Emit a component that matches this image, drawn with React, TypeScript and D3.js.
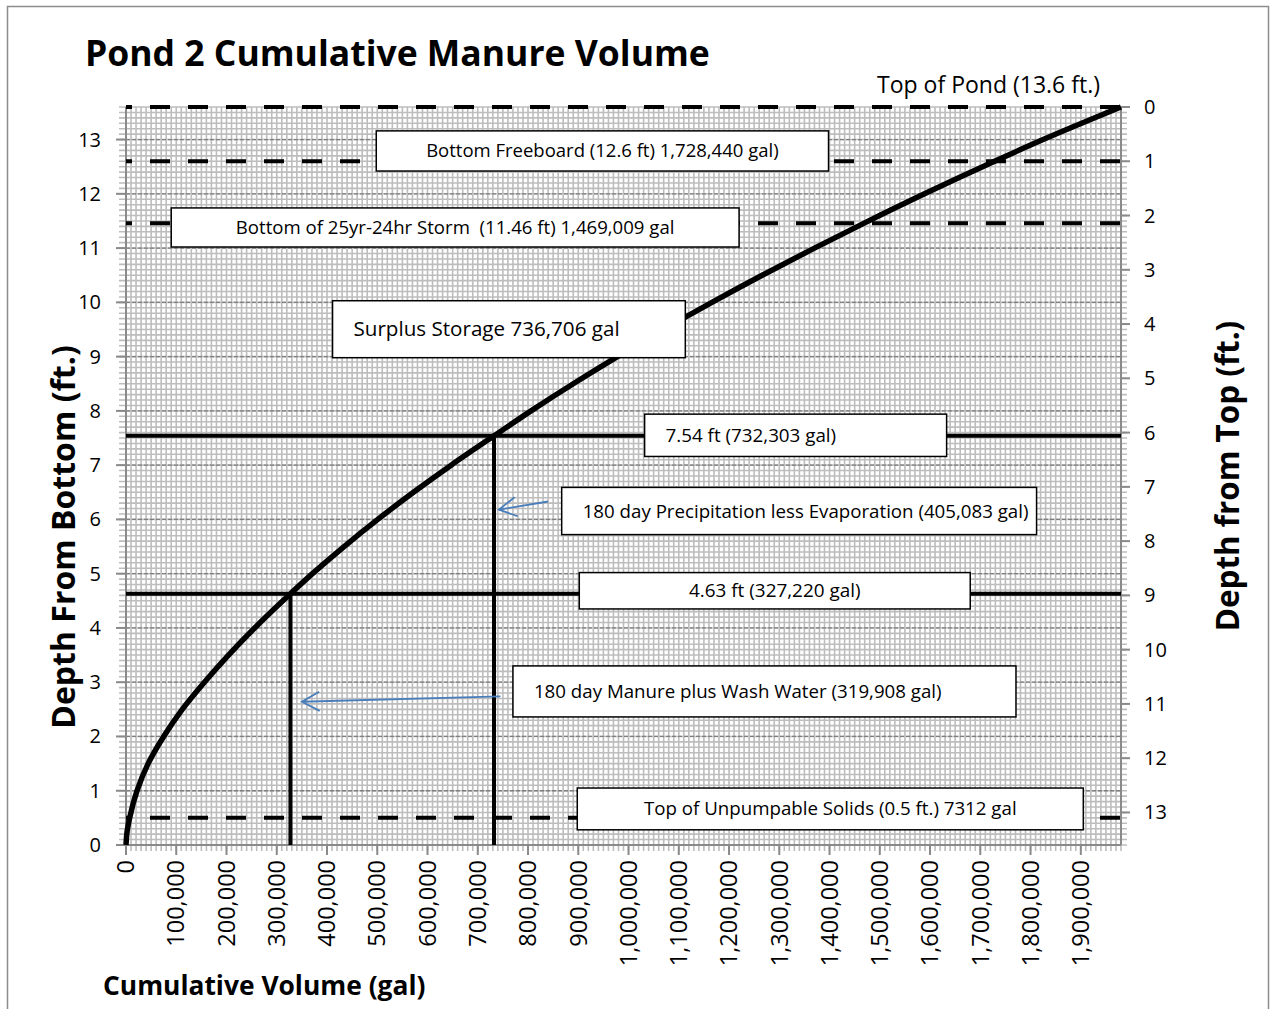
import { useEffect, useRef } from 'react';
import * as d3 from 'd3';

// depth (ft) vs cumulative volume (gal)
const depthFt = [0, 0.25, 0.5, 1, 1.5, 2, 2.5, 3, 3.5, 4, 4.63, 5, 5.5, 6, 6.5, 7, 7.54, 8, 8.5, 9, 9.5, 10, 10.5, 11, 11.46, 12, 12.6, 13, 13.6];
const volumeGal = [0, 2200, 7312, 22000, 44000, 75000, 112000, 156000, 204000, 256000, 327220, 371000, 434000, 501000, 572000, 647000, 732303, 806000, 890000, 978000, 1070000, 1166000, 1266000, 1370000, 1469009, 1589000, 1728440, 1825000, 1980000];

const xTicks = d3.range(0, 2000000, 100000);
const leftTicks = d3.range(0, 14, 1);
const rightTicks = d3.range(0, 14, 1);

// reference levels (ft) and their line style
const levelDepths = [13.6, 12.6, 11.46, 7.54, 4.63, 0.5];
const levelDashed = [true, true, true, false, false, true];

// drop lines: volume (gal) up to depth (ft)
const dropVolumes = [732303, 327220];
const dropDepths = [7.54, 4.63];

const noteTexts = [
  'Bottom Freeboard (12.6 ft) 1,728,440 gal)',
  'Bottom of 25yr-24hr Storm  (11.46 ft) 1,469,009 gal',
  'Surplus Storage 736,706 gal',
  '7.54 ft (732,303 gal)',
  '180 day Precipitation less Evaporation (405,083 gal)',
  '4.63 ft (327,220 gal)',
  '180 day Manure plus Wash Water (319,908 gal)',
  'Top of Unpumpable Solids (0.5 ft.) 7312 gal',
];
// box layout in chart units: [x0 gal, x1 gal, top ft, bottom ft]
const noteBoxes = [
  [498000, 1398000, 13.16, 12.42],
  [90000, 1220000, 11.74, 11.02],
  [411000, 1113000, 10.03, 8.98],
  [1032000, 1633000, 7.94, 7.16],
  [867000, 1812000, 6.59, 5.72],
  [902000, 1680000, 5.02, 4.35],
  [770000, 1771000, 3.3, 2.36],
  [898000, 1905000, 1.05, 0.28],
];
const noteAlign = ['middle', 'middle', 'start', 'start', 'start', 'middle', 'start', 'middle'];
const noteSize = [18.5, 18.6, 20.6, 18.8, 18.7, 18.9, 18.7, 18.7];

// arrows: [from gal, from ft, to gal, to ft]
const arrows = [
  [840000, 6.33, 742000, 6.18],
  [745000, 2.74, 350000, 2.64],
];

export default function App() {
  const ref = useRef<SVGSVGElement>(null);

  useEffect(() => {
    const svg = d3.select(ref.current);
    svg.selectAll('*').remove();
    const W = 1276, H = 1009;
    const m = { left: 126, top: 107, right: 1121, bottom: 845 };
    const font = '"Open Sans", Lato, sans-serif';

    const x = d3.scaleLinear().domain([0, 1980000]).range([m.left, m.right]);
    const y = d3.scaleLinear().domain([0, 13.6]).range([m.bottom, m.top]);
    const yr = d3.scaleLinear().domain([0, 13.6]).range([m.top, m.bottom]);

    svg.append('rect').attr('width', W).attr('height', H).attr('fill', '#fff');
    svg.append('rect').attr('x', 7.5).attr('y', 6.5).attr('width', 1261).attr('height', 1010)
      .attr('fill', 'none').attr('stroke', '#8c8c8c').attr('stroke-width', 1.5);

    const g = svg.append('g');
    // minor grid
    const xMinor = d3.range(0, 1980001, 10000);
    const yMinor = d3.range(0, 136.01, 1).map(d => d / 10);
    g.selectAll('.xm').data(xMinor).join('line')
      .attr('x1', d => x(d)).attr('x2', d => x(d))
      .attr('y1', m.top).attr('y2', m.bottom + 6)
      .attr('stroke', '#bdbdbd').attr('stroke-width', 1.6);
    g.selectAll('.ym').data(yMinor).join('line')
      .attr('x1', m.left - 7).attr('x2', m.right + 6)
      .attr('y1', d => y(d)).attr('y2', d => y(d))
      .attr('stroke', '#bdbdbd').attr('stroke-width', 1.6);
    // major horizontal gridlines
    g.selectAll('.ymaj').data(leftTicks.filter(d => d > 0)).join('line')
      .attr('x1', m.left).attr('x2', m.right)
      .attr('y1', d => y(d)).attr('y2', d => y(d))
      .attr('stroke', '#7f7f7f').attr('stroke-width', 1.3).attr('stroke-dasharray', '4 2');

    // axes lines and major ticks
    const axisC = '#8a8a8a';
    g.append('line').attr('x1', m.left).attr('x2', m.left).attr('y1', m.top).attr('y2', m.bottom + 1)
      .attr('stroke', axisC).attr('stroke-width', 2);
    g.append('line').attr('x1', m.right).attr('x2', m.right).attr('y1', m.top).attr('y2', m.bottom)
      .attr('stroke', axisC).attr('stroke-width', 2);
    g.append('line').attr('x1', m.left).attr('x2', m.right).attr('y1', m.bottom).attr('y2', m.bottom)
      .attr('stroke', axisC).attr('stroke-width', 2);
    g.selectAll('.lt').data(leftTicks).join('line')
      .attr('x1', m.left - 10).attr('x2', m.left).attr('y1', d => y(d)).attr('y2', d => y(d))
      .attr('stroke', axisC).attr('stroke-width', 2);
    g.selectAll('.rt').data(rightTicks).join('line')
      .attr('x1', m.right).attr('x2', m.right + 9).attr('y1', d => yr(d)).attr('y2', d => yr(d))
      .attr('stroke', axisC).attr('stroke-width', 2);
    g.selectAll('.bt').data(xTicks).join('line')
      .attr('x1', d => x(d)).attr('x2', d => x(d)).attr('y1', m.bottom).attr('y2', m.bottom + 10)
      .attr('stroke', axisC).attr('stroke-width', 2);

    // tick labels
    g.selectAll('.ll').data(leftTicks).join('text')
      .attr('x', 101).attr('y', d => y(d)).attr('dy', '0.35em')
      .attr('text-anchor', 'end').attr('font-family', font).attr('font-size', 20).attr('fill', '#000')
      .text(d => d);
    g.selectAll('.rl').data(rightTicks).join('text')
      .attr('x', 1144).attr('y', d => yr(d)).attr('dy', '0.35em')
      .attr('text-anchor', 'start').attr('font-family', font).attr('font-size', 20).attr('fill', '#000')
      .text(d => d);
    g.selectAll('.xl').data(xTicks).join('text')
      .attr('transform', d => `translate(${x(d)},${860}) rotate(-90)`)
      .attr('dy', '0.35em').attr('text-anchor', 'end')
      .attr('font-family', font).attr('font-size', 23.5).attr('fill', '#000')
      .text(d => d3.format(',')(d));

    // level lines
    levelDepths.forEach((d, i) => {
      g.append('line')
        .attr('x1', m.left).attr('x2', m.right).attr('y1', y(d)).attr('y2', y(d))
        .attr('stroke', '#000').attr('stroke-width', 4)
        .attr('stroke-dasharray', levelDashed[i] ? '20 18' : null)
        .attr('stroke-dashoffset', levelDashed[i] ? 14 : 0);
    });
    dropVolumes.forEach((v, i) => {
      g.append('line')
        .attr('x1', x(v)).attr('x2', x(v)).attr('y1', y(0)).attr('y2', y(dropDepths[i]))
        .attr('stroke', '#000').attr('stroke-width', 4);
    });

    // curve
    const pts = volumeGal.map((v, i) => [v, depthFt[i]] as [number, number]);
    g.append('path').datum(pts)
      .attr('d', d3.line<[number, number]>().x(d => x(d[0])).y(d => y(d[1])).curve(d3.curveMonotoneY))
      .attr('fill', 'none').attr('stroke', '#000').attr('stroke-width', 5.5);

    // annotation boxes
    noteTexts.forEach((t, i) => {
      const [a, b, top, bot] = noteBoxes[i];
      const bx = x(a), bw = x(b) - x(a), by = y(top), bh = y(bot) - y(top);
      g.append('rect').attr('x', bx).attr('y', by).attr('width', bw).attr('height', bh)
        .attr('fill', '#fff').attr('stroke', '#000').attr('stroke-width', 1.5);
      const tx = noteAlign[i] === 'middle' ? bx + bw / 2 : bx + 21;
      g.append('text').attr('x', tx).attr('y', by + bh / 2).attr('dy', '0.35em')
        .attr('text-anchor', noteAlign[i]).attr('font-family', font)
        .attr('font-size', noteSize[i]).attr('fill', '#000')
        .style('white-space', 'pre').text(t);
    });

    // arrows
    arrows.forEach(([x0, y0, x1, y1]) => {
      const p0 = [x(x0), y(y0)], p1 = [x(x1), y(y1)];
      const ang = Math.atan2(p0[1] - p1[1], p0[0] - p1[0]);
      const L = 20, spread = 0.5;
      const h1 = [p1[0] + L * Math.cos(ang + spread), p1[1] + L * Math.sin(ang + spread)];
      const h2 = [p1[0] + L * Math.cos(ang - spread), p1[1] + L * Math.sin(ang - spread)];
      g.append('path')
        .attr('d', `M${p0[0]},${p0[1]}L${p1[0]},${p1[1]}M${h1[0]},${h1[1]}L${p1[0]},${p1[1]}L${h2[0]},${h2[1]}`)
        .attr('fill', 'none').attr('stroke', '#4a7ebb').attr('stroke-width', 1.8);
    });

    // titles
    svg.append('text').attr('x', 85).attr('y', 66).attr('font-family', font).attr('font-weight', 'bold')
      .attr('font-size', 35.5).attr('fill', '#000').text('Pond 2 Cumulative Manure Volume');
    svg.append('text').attr('x', 1100).attr('y', 93).attr('text-anchor', 'end').attr('font-family', font)
      .attr('font-size', 23).attr('fill', '#000').text('Top of Pond (13.6 ft.)');
    svg.append('text').attr('transform', `translate(75,537) rotate(-90)`).attr('text-anchor', 'middle')
      .attr('font-family', font).attr('font-weight', 'bold').attr('font-size', 32).attr('fill', '#000')
      .text('Depth From Bottom (ft.)');
    svg.append('text').attr('transform', `translate(1239,476) rotate(-90)`).attr('text-anchor', 'middle')
      .attr('font-family', font).attr('font-weight', 'bold').attr('font-size', 31.4).attr('fill', '#000')
      .text('Depth from Top (ft.)');
    svg.append('text').attr('x', 103).attr('y', 995).attr('font-family', font).attr('font-weight', 'bold')
      .attr('font-size', 26.4).attr('fill', '#000').text('Cumulative Volume (gal)');
  }, []);

  return (
    <svg ref={ref} width={1276} height={1009} style={{ position: 'absolute', left: 0, top: 0, display: 'block' }} />
  );
}
